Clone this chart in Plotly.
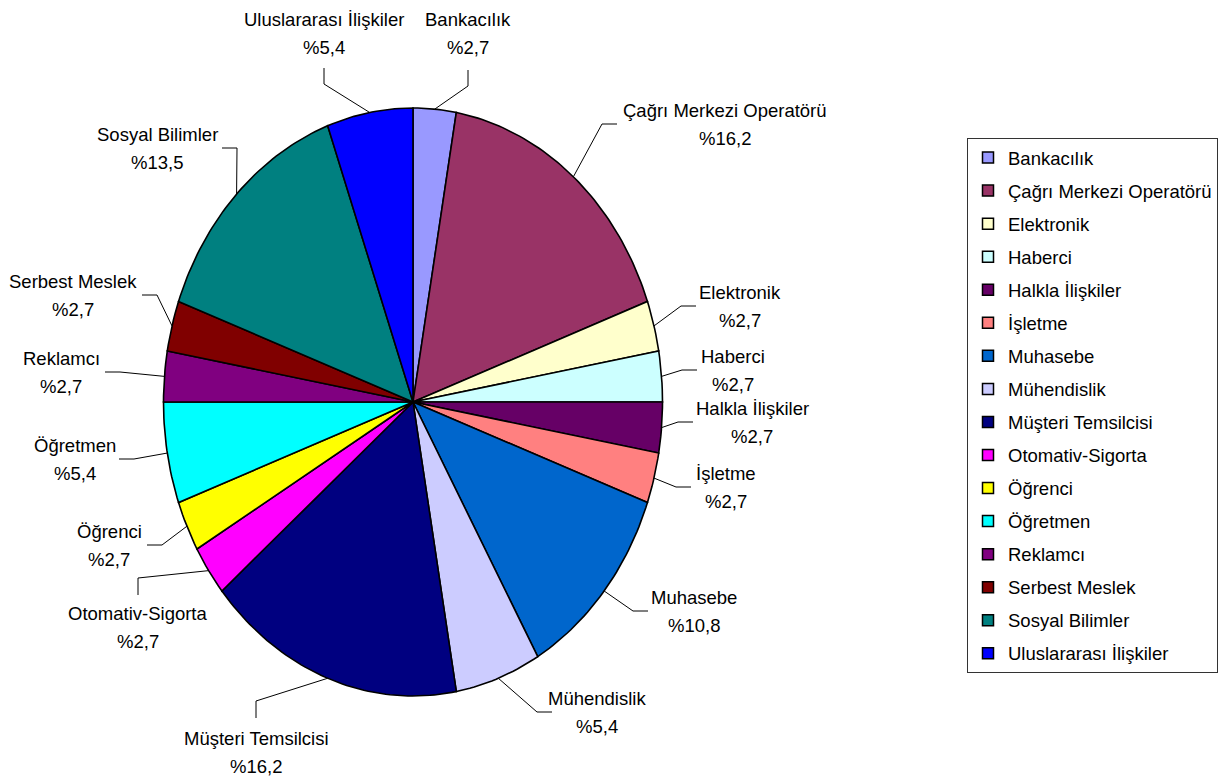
import numpy as np
import plotly.graph_objects as go

# ---- data -------------------------------------------------------------
categories = [
    "Bankacılık", "Çağrı Merkezi Operatörü", "Elektronik", "Haberci",
    "Halkla İlişkiler", "İşletme", "Muhasebe", "Mühendislik",
    "Müşteri Temsilcisi", "Otomativ-Sigorta", "Öğrenci", "Öğretmen",
    "Reklamcı", "Serbest Meslek", "Sosyal Bilimler", "Uluslararası İlişkiler",
]
percent = [2.7, 16.2, 2.7, 2.7, 2.7, 2.7, 10.8, 5.4,
           16.2, 2.7, 2.7, 5.4, 2.7, 2.7, 13.5, 5.4]
colors = [
    "#9999FF", "#993366", "#FFFFCC", "#CCFFFF", "#660066", "#FF8080",
    "#0066CC", "#CCCCFF", "#000080", "#FF00FF", "#FFFF00", "#00FFFF",
    "#800080", "#800000", "#008080", "#0000FF",
]

# ---- layout of the pie (figure pixel space, y grows downwards) --------
W, H = 1230, 776
CX, CY, RX, RY = 413, 402, 249.5, 294
FONT = "Liberation Sans, Arial, sans-serif"
LABEL_SIZE = 18.5
LINE_HALF_GAP = 14  # half the distance between the two label lines

# label placement: side of the pie, centre of the text block, and the
# coordinate where the leader line stops (x for left/right, y for top/bottom)
LABEL_PLACE = {
    "Bankacılık": ("top", 468, 33, 70),
    "Çağrı Merkezi Operatörü": ("right", 725, 124, 617),
    "Elektronik": ("right", 740, 306, 696),
    "Haberci": ("right", 733, 370, 697),
    "Halkla İlişkiler": ("right", 752, 422, 693),
    "İşletme": ("right", 726, 487, 691),
    "Muhasebe": ("right", 694, 611, 648),
    "Mühendislik": ("right", 597, 712, 552),
    "Müşteri Temsilcisi": ("bottom", 256, 752, 718),
    "Otomativ-Sigorta": ("bottom", 138, 627, 595),
    "Öğrenci": ("left", 109, 545, 147),
    "Öğretmen": ("left", 75, 459, 119),
    "Reklamcı": ("left", 61, 372, 105),
    "Serbest Meslek": ("left", 73, 295, 142),
    "Sosyal Bilimler": ("left", 157, 148, 222),
    "Uluslararası İlişkiler": ("top", 324, 33, 68),
}
ELBOW = 15  # length of the straight end piece of each leader line


def on_ellipse(t):
    """Point of the pie rim at angle t (clockwise from 12 o'clock)."""
    return CX + RX * np.sin(t), CY - RY * np.cos(t)


vals = np.asarray(percent, dtype=float)
bounds = np.concatenate([[0.0], np.cumsum(vals / vals.sum())]) * 2 * np.pi

fig = go.Figure()

# slices
for name, v, col, a0, a1 in zip(categories, percent, colors, bounds[:-1], bounds[1:]):
    n = max(8, int((a1 - a0) / (2 * np.pi) * 360))
    t = np.linspace(a0, a1, n)
    ex, ey = on_ellipse(t)
    fig.add_trace(go.Scatter(
        x=np.concatenate([[CX], ex, [CX]]),
        y=np.concatenate([[CY], ey, [CY]]),
        mode="lines", fill="toself", fillcolor=col,
        line=dict(color="black", width=1.6),
        name=name, showlegend=False, hoverinfo="text",
        text=f"{name}: %{v:.1f}".replace(".", ","),
    ))

# leader lines and two-line labels
annotations = []
for name, v, a0, a1 in zip(categories, percent, bounds[:-1], bounds[1:]):
    side, cx, cy, stop = LABEL_PLACE[name]
    sx, sy = on_ellipse((a0 + a1) / 2)
    if side == "right":
        end, elbow = (stop, cy), (stop - ELBOW, cy)
    elif side == "left":
        end, elbow = (stop, cy), (stop + ELBOW, cy)
    elif side == "top":
        end, elbow = (cx, stop), (cx, stop + ELBOW + 1)
    else:
        end, elbow = (cx, stop), (cx, stop - ELBOW - 2)
    fig.add_trace(go.Scatter(
        x=[sx, elbow[0], end[0]], y=[sy, elbow[1], end[1]],
        mode="lines", line=dict(color="black", width=1),
        showlegend=False, hoverinfo="skip",
    ))
    label = f"%{v:.1f}".replace(".", ",")
    for txt, yy in ((name, cy - LINE_HALF_GAP), (label, cy + LINE_HALF_GAP)):
        annotations.append(dict(
            x=cx, y=yy, xref="x", yref="y", xanchor="center", yanchor="middle",
            text=txt, showarrow=False,
            font=dict(family=FONT, size=LABEL_SIZE, color="black"),
        ))

# legend entries
for i, (name, col) in enumerate(zip(categories, colors)):
    fig.add_trace(go.Scatter(
        x=[None], y=[None], mode="markers", name=name,
        legendgroup=f"g{i}",
        marker=dict(symbol="square", size=11, color=col,
                    line=dict(color="black", width=1.5)),
    ))

fig.update_layout(
    width=W, height=H,
    margin=dict(l=0, r=0, t=0, b=0),
    paper_bgcolor="white", plot_bgcolor="white",
    xaxis=dict(range=[0, W], visible=False, fixedrange=True),
    yaxis=dict(range=[H, 0], visible=False, fixedrange=True),
    annotations=annotations,
    showlegend=True,
    legend=dict(
        x=1 - 12 / W, xanchor="right", y=1 - 138 / H, yanchor="top",
        bgcolor="white", bordercolor="#333333", borderwidth=1,
        font=dict(family=FONT, size=18.5, color="black"),
        traceorder="grouped", tracegroupgap=6,
    ),
    font=dict(family=FONT),
)

fig.write_html("out.html")
